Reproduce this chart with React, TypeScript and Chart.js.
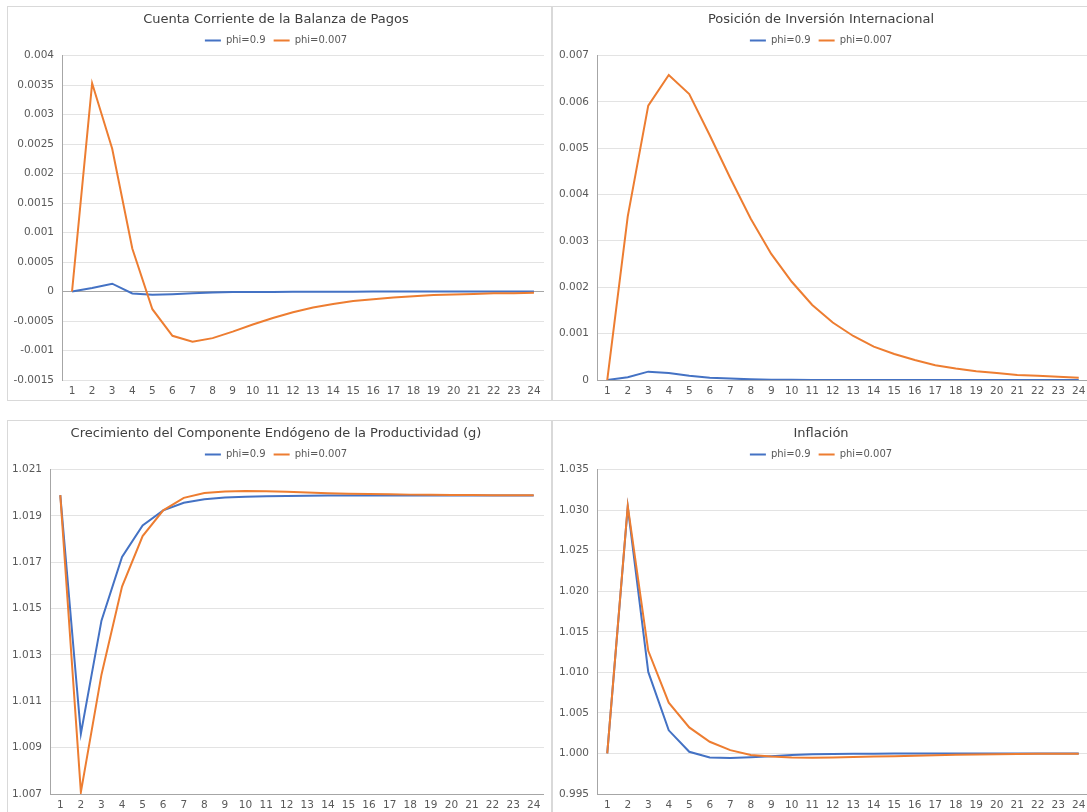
import React, { useEffect, useRef } from 'react';
import { Chart, registerables } from 'chart.js';

Chart.register(...registerables);
Chart.defaults.font.family = '"DejaVu Sans", sans-serif';

const periods = ['1', '2', '3', '4', '5', '6', '7', '8', '9', '10', '11', '12', '13', '14', '15', '16', '17', '18', '19', '20', '21', '22', '23', '24'];
const seriesNames = ['phi=0.9', 'phi=0.007'];

const titles = [
  'Cuenta Corriente de la Balanza de Pagos',
  'Posición de Inversión Internacional',
  'Crecimiento del Componente Endógeno de la Productividad (g)',
  'Inflación',
];

// Cuenta corriente
const ccPhi09 = [0, 0.00006, 0.000133, -0.000033, -0.000056, -0.000045, -0.00003, -0.000015, -0.00001, -0.000008, -0.000006, -0.000004, -0.000003, -0.000002, -0.000002, -0.000001, -0.000001, -0.000001, 0, 0, 0, 0, 0, 0];
const ccPhi0007 = [0, 0.00353, 0.00242, 0.00073, -0.0003, -0.00075, -0.00085, -0.00079, -0.00068, -0.00056, -0.00045, -0.00035, -0.00027, -0.00021, -0.00016, -0.00013, -0.0001, -0.00008, -0.00006, -0.00005, -0.00004, -0.00003, -0.00003, -0.00002];
const ccTicks = [-0.0015, -0.001, -0.0005, 0, 0.0005, 0.001, 0.0015, 0.002, 0.0025, 0.003, 0.0035, 0.004];

// Posición de inversión internacional
const piiPhi09 = [0, 0.00006, 0.00018, 0.00015, 0.00009, 0.00005, 0.00003, 0.000015, 0.000007, 0.000004, 0.000002, 0.000001, 0, 0, 0, 0, 0, 0, 0, 0, 0, 0, 0, 0];
const piiPhi0007 = [0, 0.00353, 0.00592, 0.00658, 0.00617, 0.00528, 0.00436, 0.00348, 0.00272, 0.00212, 0.00162, 0.00124, 0.00095, 0.00072, 0.00056, 0.00043, 0.00032, 0.00025, 0.00019, 0.00015, 0.00011, 0.00009, 0.00007, 0.00005];
const piiTicks = [0, 0.001, 0.002, 0.003, 0.004, 0.005, 0.006, 0.007];

// Crecimiento g
const gPhi09 = [1.0199, 1.0096, 1.01448, 1.01723, 1.01859, 1.01924, 1.01957, 1.01972, 1.0198, 1.01983, 1.01985, 1.01986, 1.01987, 1.01988, 1.01988, 1.01988, 1.01988, 1.01988, 1.01988, 1.01988, 1.01988, 1.01988, 1.01988, 1.01988];
const gPhi0007 = [1.0199, 1.00708, 1.01215, 1.01595, 1.01813, 1.01924, 1.01978, 1.01999, 1.02006, 1.02008, 1.02007, 1.02004, 1.02001, 1.01998, 1.01996, 1.01995, 1.01994, 1.01992, 1.01991, 1.0199, 1.0199, 1.01989, 1.01989, 1.01989];
const gTicks = [1.007, 1.009, 1.011, 1.013, 1.015, 1.017, 1.019, 1.021];

// Inflación
const infPhi09 = [1.0, 1.0304, 1.01005, 1.00285, 1.00021, 0.99951, 0.99943, 0.99952, 0.99964, 0.9998, 0.99989, 0.99993, 0.99995, 0.99997, 0.99998, 0.99999, 1.0, 1.0, 1.0, 1.0, 1.0, 1.0, 1.0, 1.0];
const infPhi0007 = [1.0, 1.03052, 1.01265, 1.00626, 1.00321, 1.00144, 1.00041, 0.99982, 0.99961, 0.9995, 0.99948, 0.99951, 0.99955, 0.99961, 0.99967, 0.99973, 0.99978, 0.99983, 0.99987, 0.9999, 0.99993, 0.99995, 0.99996, 0.99997];
const infTicks = [0.995, 1.0, 1.005, 1.01, 1.015, 1.02, 1.025, 1.03, 1.035];

const BLUE = '#4472C4';
const ORANGE = '#ED7D31';
const GRID = '#e3e3e3';
const AXIS = '#a6a6a6';
const TEXT = '#595959';

type PanelProps = {
  left: number;
  top: number;
  title: string;
  blue: number[];
  orange: number[];
  yTicks: number[];
  decimals: number | null;
  axisAt: number;
  yWidth: number;
};

function Panel({ left, top, title, blue, orange, yTicks, decimals, axisAt, yWidth }: PanelProps) {
  const ref = useRef<HTMLCanvasElement>(null);
  useEffect(() => {
    const fmt = (v: number) =>
      decimals === null ? String(parseFloat(Number(v).toFixed(5))) : Number(v).toFixed(decimals);
    const chart = new Chart(ref.current as HTMLCanvasElement, {
      type: 'line',
      data: {
        labels: periods,
        datasets: [
          { label: seriesNames[0], data: blue, borderColor: BLUE, backgroundColor: BLUE, borderWidth: 2, pointRadius: 0, tension: 0, order: 1 },
          { label: seriesNames[1], data: orange, borderColor: ORANGE, backgroundColor: ORANGE, borderWidth: 2, pointRadius: 0, tension: 0, order: 0 },
        ],
      },
      options: {
        animation: false,
        responsive: false,
        maintainAspectRatio: false,
        layout: { padding: { left: 0, right: 7, top: 2, bottom: 0 } },
        plugins: {
          title: {
            display: true,
            text: title,
            color: '#404040',
            font: { size: 13, weight: 'normal' },
            padding: { top: 3, bottom: 0 },
          },
          legend: {
            position: 'top',
            labels: {
              usePointStyle: true,
              pointStyle: 'line',
              pointStyleWidth: 16,
              boxHeight: 10,
              font: { size: 10 },
              color: TEXT,
              padding: 8,
              sort: (a: any, b: any) => a.datasetIndex - b.datasetIndex,
            },
          },
          tooltip: { enabled: false },
        },
        scales: {
          x: {
            offset: true,
            grid: { display: false, offset: true, drawTicks: false },
            border: { display: false },
            ticks: { color: TEXT, font: { size: 10.5 }, padding: 5, maxRotation: 0, autoSkip: false },
            afterFit: (s: any) => { s.height = 20; },
          },
          y: {
            min: yTicks[0],
            max: yTicks[yTicks.length - 1],
            grid: {
              drawTicks: false,
              lineWidth: 1,
              color: (ctx: any) => (ctx.tick && Math.abs(ctx.tick.value - axisAt) < 1e-9 ? AXIS : GRID),
            },
            border: { display: true, color: AXIS, width: 1 },
            ticks: { color: TEXT, font: { size: 10.5 }, padding: 8, callback: (v: any) => fmt(Number(v)) },
            afterBuildTicks: (s: any) => { s.ticks = yTicks.map((v) => ({ value: v })); },
            afterFit: (s: any) => { s.width = yWidth; },
          },
        },
      } as any,
    });
    return () => chart.destroy();
  }, []);
  return (
    <div
      style={{
        position: 'absolute',
        left,
        top,
        width: 545,
        height: 395,
        border: '1px solid #d9d9d9',
        boxSizing: 'border-box',
        background: '#fff',
      }}
    >
      <canvas ref={ref} width={543} height={393} style={{ display: 'block' }} />
    </div>
  );
}

export default function App() {
  return (
    <div style={{ position: 'fixed', left: 0, top: 0, width: 1087, height: 812, overflow: 'hidden', background: '#fff' }}>
      <Panel left={7} top={6} title={titles[0]} blue={ccPhi09} orange={ccPhi0007} yTicks={ccTicks} decimals={null} axisAt={0} yWidth={54} />
      <Panel left={552} top={6} title={titles[1]} blue={piiPhi09} orange={piiPhi0007} yTicks={piiTicks} decimals={null} axisAt={0} yWidth={44} />
      <Panel left={7} top={420} title={titles[2]} blue={gPhi09} orange={gPhi0007} yTicks={gTicks} decimals={3} axisAt={1.007} yWidth={42} />
      <Panel left={552} top={420} title={titles[3]} blue={infPhi09} orange={infPhi0007} yTicks={infTicks} decimals={3} axisAt={0.995} yWidth={44} />
    </div>
  );
}
